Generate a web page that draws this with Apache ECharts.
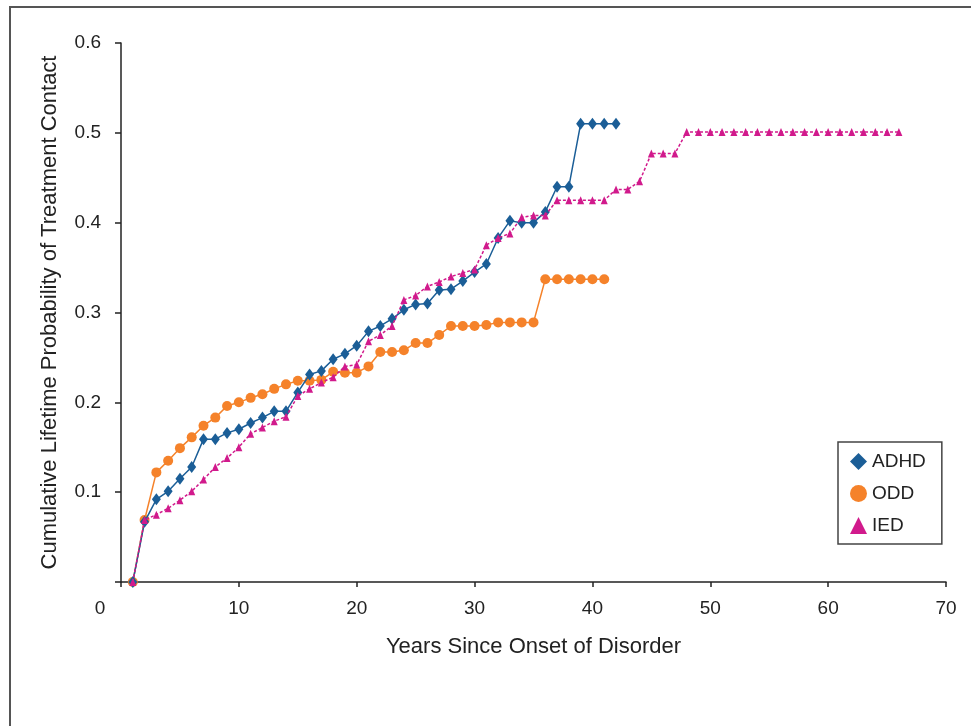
<!DOCTYPE html>
<html>
<head>
<meta charset="utf-8">
<script src="https://cdn.jsdelivr.net/npm/echarts@6/dist/echarts.min.js"></script>
<style>
  html, body { margin: 0; padding: 0; background: #fff; }
  #chart { width: 971px; height: 726px; }
</style>
</head>
<body>
<div id="chart"></div>
<script>
// years since onset (x positions shared by all three curves)
const years = [1, 2, 3, 4, 5, 6, 7, 8, 9, 10, 11, 12, 13, 14, 15, 16, 17, 18, 19, 20,
    21, 22, 23, 24, 25, 26, 27, 28, 29, 30, 31, 32, 33, 34, 35, 36, 37, 38, 39, 40,
    41, 42, 43, 44, 45, 46, 47, 48, 49, 50, 51, 52, 53, 54, 55, 56, 57, 58, 59, 60,
    61, 62, 63, 64, 65, 66];

const adhd = [0.000, 0.067, 0.092, 0.101, 0.115, 0.128, 0.159, 0.159, 0.166, 0.170,
    0.177, 0.183, 0.190, 0.190, 0.211, 0.231, 0.235, 0.248, 0.254, 0.263,
    0.279, 0.285, 0.293, 0.303, 0.309, 0.310, 0.325, 0.326, 0.335, 0.345,
    0.354, 0.383, 0.402, 0.400, 0.400, 0.412, 0.440, 0.440, 0.510, 0.510,
    0.510, 0.510];

const odd = [0.000, 0.069, 0.122, 0.135, 0.149, 0.161, 0.174, 0.183, 0.196, 0.200,
    0.205, 0.209, 0.215, 0.220, 0.224, 0.224, 0.225, 0.234, 0.233, 0.233,
    0.240, 0.256, 0.256, 0.258, 0.266, 0.266, 0.275, 0.285, 0.285, 0.285,
    0.286, 0.289, 0.289, 0.289, 0.289, 0.337, 0.337, 0.337, 0.337, 0.337,
    0.337];

const ied = [0.000, 0.069, 0.075, 0.082, 0.091, 0.101, 0.114, 0.128, 0.138, 0.150,
    0.165, 0.172, 0.179, 0.184, 0.207, 0.215, 0.222, 0.228, 0.240, 0.242,
    0.268, 0.275, 0.285, 0.314, 0.319, 0.329, 0.334, 0.340, 0.344, 0.348,
    0.375, 0.383, 0.388, 0.406, 0.408, 0.408, 0.425, 0.425, 0.425, 0.425,
    0.425, 0.437, 0.437, 0.446, 0.477, 0.477, 0.477, 0.501, 0.501, 0.501,
    0.501, 0.501, 0.501, 0.501, 0.501, 0.501, 0.501, 0.501, 0.501, 0.501,
    0.501, 0.501, 0.501, 0.501, 0.501, 0.501];

const xTicks = [0, 10, 20, 30, 40, 50, 60, 70];
const yTicks = [0, 0.1, 0.2, 0.3, 0.4, 0.5, 0.6];

const font = "'Liberation Sans Narrow', 'Liberation Sans', Arial, sans-serif";
const pairs = vals => vals.map((v, i) => [years[i], v]);

const chart = echarts.init(document.getElementById('chart'));

chart.setOption({
    animation: false,
    backgroundColor: '#fff',
    textStyle: { fontFamily: font },
    graphic: [{
        type: 'rect',
        shape: { x: 10, y: 7, width: 1000, height: 800 },
        style: { fill: 'none', stroke: '#555', lineWidth: 2 },
        silent: true
    }],
    grid: { left: 121, right: 25, top: 43, bottom: 144 },
    legend: {
        orient: 'vertical',
        left: 838,
        top: 442,
        padding: [10, 16, 9, 12],
        borderColor: '#444',
        borderWidth: 1.5,
        itemWidth: 17,
        itemHeight: 17,
        itemGap: 13,
        textStyle: { fontFamily: font, fontSize: 19, color: '#222' },
        data: [
            { name: 'ADHD', icon: 'diamond' },
            { name: 'ODD', icon: 'circle' },
            { name: 'IED', icon: 'triangle' }
        ]
    },
    xAxis: {
        type: 'value',
        min: xTicks[0],
        max: xTicks[xTicks.length - 1],
        interval: 10,
        name: 'Years Since Onset of Disorder',
        nameLocation: 'middle',
        nameGap: 54,
        nameTextStyle: { fontFamily: font, fontSize: 22, color: '#222' },
        axisLine: { show: true, lineStyle: { color: '#222', width: 1.5 } },
        axisTick: { show: true, length: 5, lineStyle: { color: '#222', width: 1.5 } },
        axisLabel: {
            fontFamily: font, fontSize: 19, color: '#222', margin: 17,
            formatter: v => v === 0 ? '{z|0}' : String(v),
            rich: { z: { fontFamily: font, fontSize: 19, color: '#222', padding: [0, 42, 0, 0] } }
        },
        splitLine: { show: false }
    },
    yAxis: {
        type: 'value',
        min: yTicks[0],
        max: yTicks[yTicks.length - 1],
        interval: 0.1,
        name: 'Cumulative Lifetime Probability of Treatment Contact',
        nameLocation: 'middle',
        nameGap: 60,
        nameTextStyle: { fontFamily: font, fontSize: 22, color: '#222' },
        axisLine: { show: true, lineStyle: { color: '#222', width: 1.5 } },
        axisTick: { show: true, length: 6, lineStyle: { color: '#222', width: 1.5 } },
        axisLabel: {
            fontFamily: font, fontSize: 19, color: '#222', margin: 20,
            formatter: v => v === 0 ? '' : v.toFixed(1)
        },
        splitLine: { show: false }
    },
    series: [
        {
            name: 'ADHD',
            type: 'line',
            data: pairs(adhd),
            symbol: 'diamond',
            symbolSize: [9, 12],
            itemStyle: { color: '#1b5e97' },
            lineStyle: { color: '#1b5e97', width: 1.5 },
            z: 3
        },
        {
            name: 'ODD',
            type: 'line',
            data: pairs(odd),
            symbol: 'circle',
            symbolSize: 10,
            itemStyle: { color: '#f5822a' },
            lineStyle: { color: '#f5822a', width: 1.5 },
            z: 2
        },
        {
            name: 'IED',
            type: 'line',
            data: pairs(ied),
            symbol: 'triangle',
            symbolSize: [7, 8],
            itemStyle: { color: '#d11a8c' },
            lineStyle: { color: '#d11a8c', width: 1.5, type: [3, 2] },
            z: 4
        }
    ]
});
</script>
</body>
</html>
